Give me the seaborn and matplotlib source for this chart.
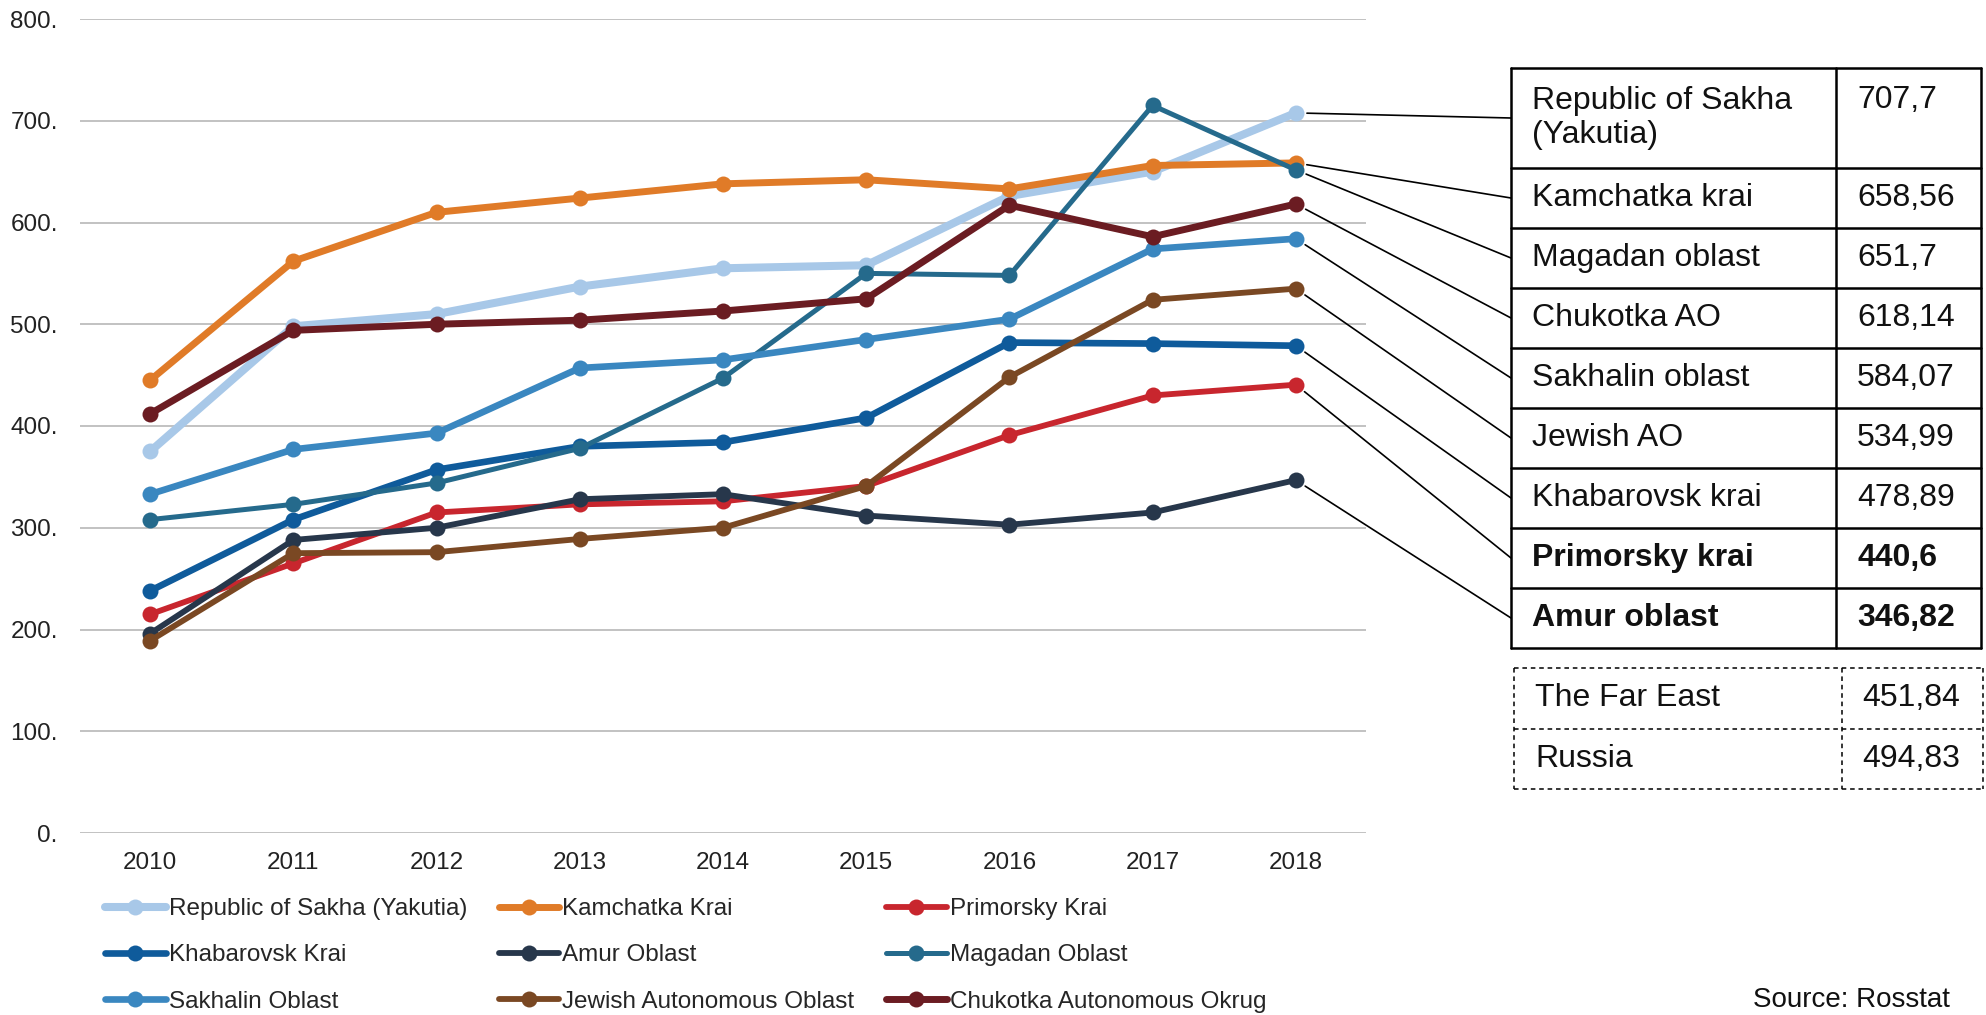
import pandas as pd
import seaborn as sns
import matplotlib.pyplot as plt
from matplotlib.lines import Line2D
from matplotlib.ticker import FuncFormatter

years = [2010, 2011, 2012, 2013, 2014, 2015, 2016, 2017, 2018]

regions = ["Republic of Sakha (Yakutia)", "Kamchatka Krai", "Primorsky Krai",
           "Khabarovsk Krai", "Amur Oblast", "Magadan Oblast",
           "Sakhalin Oblast", "Jewish Autonomous Oblast", "Chukotka Autonomous Okrug"]

sakha = [375, 498, 510, 537, 555, 558, 626, 650, 707.7]
kamchatka = [445, 562, 610, 624, 638, 642, 633, 656, 658.56]
primorsky = [215, 265, 315, 323, 326, 341, 391, 430, 440.6]
khabarovsk = [238, 308, 357, 380, 384, 408, 482, 481, 478.89]
amur = [196, 288, 300, 328, 333, 312, 303, 315, 346.82]
magadan = [308, 323, 344, 378, 447, 550, 548, 715, 651.7]
sakhalin = [333, 377, 393, 457, 465, 485, 505, 574, 584.07]
jewish = [189, 275, 276, 289, 300, 341, 448, 524, 534.99]
chukotka = [412, 494, 500, 504, 513, 525, 617, 586, 618.14]

series = [sakha, kamchatka, primorsky, khabarovsk, amur, magadan, sakhalin, jewish, chukotka]
colors = ["#a8c8e8", "#e07b28", "#c8262e", "#0f5b9b", "#27374b",
          "#256a8c", "#3a87c0", "#7a4823", "#6b1c22"]
widths = [5.8, 5.0, 4.2, 4.8, 4.2, 3.6, 4.8, 4.2, 5.0]

# table on the right
table_names = ["Republic of Sakha\n(Yakutia)", "Kamchatka krai", "Magadan oblast", "Chukotka AO",
               "Sakhalin oblast", "Jewish AO", "Khabarovsk krai", "Primorsky krai", "Amur oblast"]
table_values = ["707,7", "658,56", "651,7", "618,14", "584,07", "534,99", "478,89", "440,6", "346,82"]
table_series = [0, 1, 5, 8, 6, 7, 3, 2, 4]  # which plotted series each row points to
table_bold = [False] * 7 + [True, True]
extra_names = ["The Far East", "Russia"]
extra_values = ["451,84", "494,83"]

sns.set_style("white")
plt.rcParams['font.family'] = ['Liberation Sans', 'DejaVu Sans']

W, H = 1986, 1015
def fx(x):
    return x / W
def fy(y):
    return 1 - y / H

fig = plt.figure(figsize=(W / 100, H / 100), dpi=100)
ax = fig.add_axes([fx(80), fy(833), fx(1366) - fx(80), fy(19) - fy(833)])

for vals, name, c, lw in zip(series, regions, colors, widths):
    df = pd.DataFrame({"year": years, "value": vals})
    sns.lineplot(data=df, x="year", y="value", color=c, lw=lw, marker="o",
                 markersize=11.5, markeredgewidth=0, label=name, ax=ax)

if ax.get_legend() is not None:
    ax.get_legend().remove()

ax.set_xlim(2009.51, 2018.49)
ax.set_ylim(0, 800)
ax.set_yticks(range(0, 801, 100))
ax.set_xticks(years)
ax.yaxis.set_major_formatter(FuncFormatter(lambda v, p: f"{int(v)}."))
ax.grid(axis="y", color="#bdbdbd", lw=1.3)
ax.grid(axis="x", visible=False)
ax.set_axisbelow(True)
for s in ax.spines.values():
    s.set_visible(False)
ax.tick_params(axis="both", length=0, labelsize=17.5, colors="#222222")
ax.tick_params(axis="y", pad=16)
ax.tick_params(axis="x", pad=14)
ax.set_xlabel("")
ax.set_ylabel("")

# legend, 3 columns filled row by row
handles, labels = ax.get_legend_handles_labels()
order = [0, 3, 6, 1, 4, 7, 2, 5, 8]
fig.legend([handles[i] for i in order], [labels[i] for i in order], ncol=3,
           loc="upper left", bbox_to_anchor=(fx(105), fy(898)), frameon=False,
           fontsize=17.5, handlelength=2.5, handletextpad=0.12, columnspacing=1.3,
           labelspacing=1.0, borderpad=0, borderaxespad=0)

# solid table
tl, tm, tr = 1511, 1836, 1981
rows = [68, 168]
for i in range(8):
    rows.append(rows[-1] + 60)
for y in rows:
    fig.add_artist(Line2D([fx(tl), fx(tr)], [fy(y), fy(y)], color="black", lw=1.8))
for x in [tl, tm, tr]:
    fig.add_artist(Line2D([fx(x), fx(x)], [fy(rows[0]), fy(rows[-1])], color="black", lw=1.8))

for i, (name, val, bold) in enumerate(zip(table_names, table_values, table_bold)):
    yc = (rows[i] + rows[i + 1]) / 2
    weight = "bold" if bold else "normal"
    fig.text(fx(1532), fy(yc), name, ha="left", va="center", fontsize=23,
             fontweight=weight, linespacing=1.15, color="#111111")
    vy = 100 if i == 0 else yc
    fig.text(fx(1857), fy(vy), val, ha="left", va="center", fontsize=23,
             fontweight=weight, color="#111111")
    # leader line from the 2018 point to the row
    s = table_series[i]
    ax.annotate("", xy=(2018, series[s][-1]), xycoords="data",
                xytext=(fx(tl), fy(yc)), textcoords="figure fraction",
                arrowprops=dict(arrowstyle="-", color="black", lw=1.2, shrinkA=0, shrinkB=8),
                annotation_clip=False)

# dashed table
dl, dm, dr = 1514, 1842, 1983
drows = [668, 729, 789]
dash = (0, (3, 2.5))
for y in drows:
    fig.add_artist(Line2D([fx(dl), fx(dr)], [fy(y), fy(y)], color="black", lw=1.1, ls=dash))
for x in [dl, dm, dr]:
    fig.add_artist(Line2D([fx(x), fx(x)], [fy(drows[0]), fy(drows[-1])], color="black", lw=1.1, ls=dash))
for i, (name, val) in enumerate(zip(extra_names, extra_values)):
    yc = (drows[i] + drows[i + 1]) / 2
    fig.text(fx(1535), fy(yc), name, ha="left", va="center", fontsize=23, color="#111111")
    fig.text(fx(1862), fy(yc), val, ha="left", va="center", fontsize=23, color="#111111")

fig.text(fx(1753), fy(1013), "Source: Rosstat", ha="left", va="bottom", fontsize=20, color="#111111")

fig.savefig("out.png", dpi=100, facecolor="white")
